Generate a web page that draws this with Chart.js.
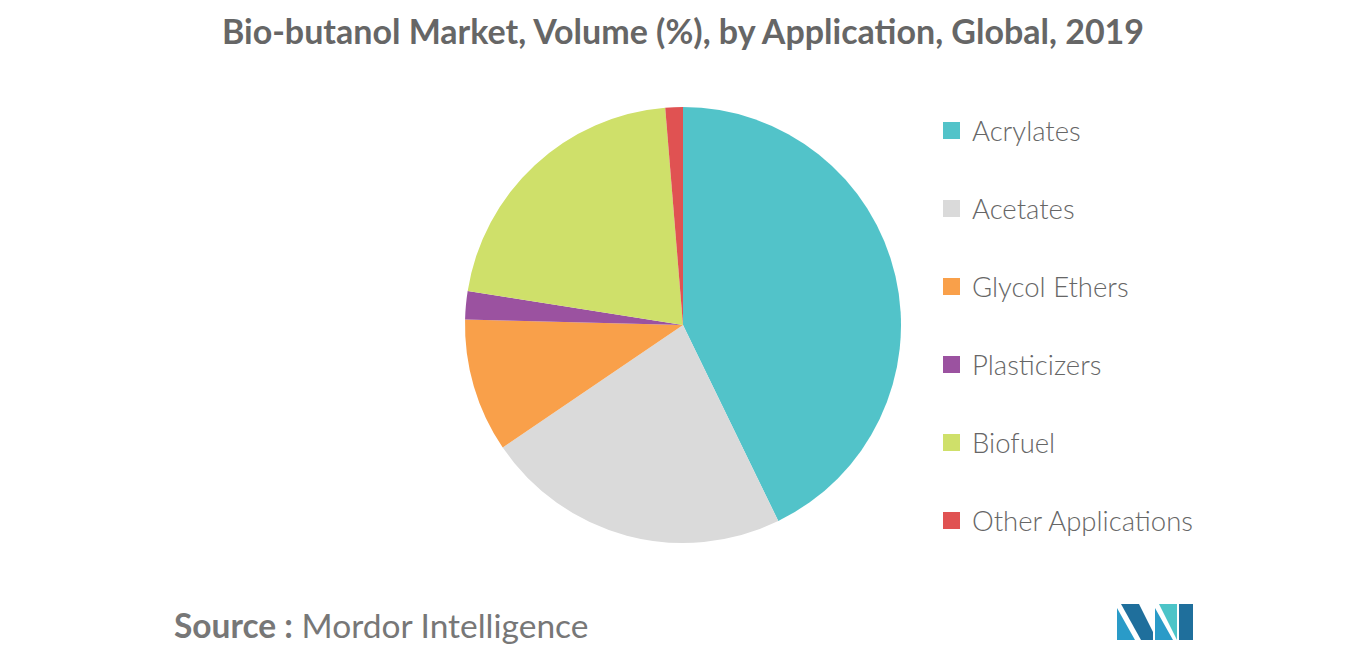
<!DOCTYPE html>
<html><head><meta charset="utf-8">
<script src="https://cdn.jsdelivr.net/npm/chart.js@4/dist/chart.umd.min.js"></script>
<style>
body{margin:0;width:1366px;height:655px;background:#fff;font-family:Lato,"Open Sans",sans-serif;position:relative;overflow:hidden}
#title{position:absolute;top:10px;left:0;width:1366px;text-align:center;font-size:34px;font-weight:bold;color:#666}
#wrap{position:absolute;left:463px;top:105px;width:440px;height:440px}
#legend{position:absolute;left:943px;top:91px}
.li{display:flex;align-items:center;height:78px;font-size:27.5px;font-weight:300;color:#666}
.li span.b{width:17px;height:17px;margin-right:12px;display:inline-block}
#src{position:absolute;left:174px;top:605px;font-size:33.5px;color:#777}
#logo{position:absolute;left:1117px;top:604px}
</style></head><body>
<div id="title">Bio-butanol Market, Volume (%), by Application, Global, 2019</div>
<div id="wrap"><canvas id="c"></canvas></div>
<div id="legend"></div>
<div id="src"><b>Source :</b> Mordor Intelligence</div>
<svg id="logo" width="76" height="36" viewBox="0 0 76 36">
<polygon points="0,36 0,4 18,36" fill="#2a9bc8"/>
<polygon points="4,0 22,0 36,28 36,36 24,36" fill="#1f6f9c"/>
<polygon points="38,36 38,4 56,36" fill="#2a9bc8"/>
<polygon points="42,0 60,0 60,36" fill="#4cc4c8"/>
<polygon points="62,0 76,0 76,36 62,36" fill="#1f6f9c"/>
</svg>
<script>
const categories=["Acrylates","Acetates","Glycol Ethers","Plasticizers","Biofuel","Other Applications"];
const values=[42.8,22.7,9.9,2.1,21.2,1.3];
const colors=["#52c3c9","#dadada","#f9a04a","#9b52a0","#cfe06a","#e05252"];
const lg=document.getElementById('legend');
categories.forEach((c,i)=>{const d=document.createElement('div');d.className='li';d.innerHTML='<span class="b" style="background:'+colors[i]+'"></span>'+c;lg.appendChild(d);});
new Chart(document.getElementById('c'),{type:'pie',
data:{labels:categories,datasets:[{data:values,backgroundColor:colors,borderWidth:0}]},
options:{responsive:true,maintainAspectRatio:false,animation:false,layout:{padding:2},
plugins:{legend:{display:false},tooltip:{enabled:false}}}});
</script></body></html>
